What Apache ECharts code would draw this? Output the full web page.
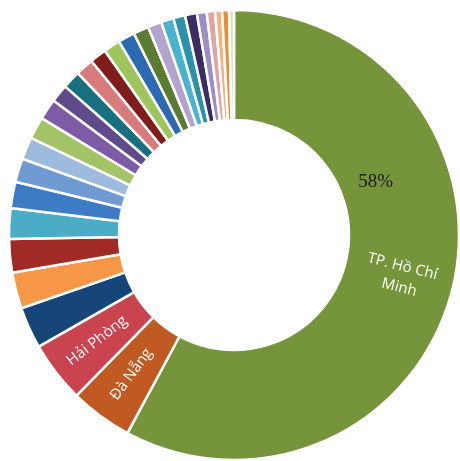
<!DOCTYPE html>
<html>
<head>
<meta charset="utf-8">
<script src="https://cdn.jsdelivr.net/npm/echarts@6/dist/echarts.min.js"></script>
<style>
html,body{margin:0;padding:0;background:#fff;}
#chart{width:460px;height:461px;}
</style>
</head>
<body>
<div id="chart"></div>
<script>
// Share of each locality (percent), clockwise from 12 o'clock
const categories = [
  'TP. Hồ Chí Minh', 'Đà Nẵng', 'Hải Phòng',
  '', '', '', '', '', '', '', '', '', '', '', '', '', '', '', '', '', '', '', '', '', '', '', '', ''
];
const values = [
  58, 4.5, 4.4,
  3.0, 2.6, 2.4, 2.2, 1.9, 1.7, 1.6, 1.6, 1.5, 1.3, 1.3, 1.3, 1.2, 1.2, 1.2, 1.1, 1.0, 0.9, 0.85, 0.85, 0.7, 0.6, 0.5, 0.5, 0.35
];
const colors = [
  '#76953B', '#C05A22', '#C9444F',
  '#16457A', '#F79646', '#A02B26', '#4BACC6', '#3D7BC4', '#6F9AD3', '#9DBBDD', '#A3C466', '#7E5BA6',
  '#5F4A8B', '#17707F', '#D97A7B', '#801D1C', '#9EC55B', '#2C6BB4', '#5B7B30', '#B3A3CE', '#49B4CF',
  '#2A93A8', '#3C2C63', '#9C8FC6', '#DEA5A5', '#F6B27E', '#EE8B35', '#D6E4BC'
];

const data = values.map((v, i) => ({
  name: categories[i],
  value: v,
  itemStyle: { color: colors[i] }
}));

const chart = echarts.init(document.getElementById('chart'), null, { renderer: 'canvas' });
chart.setOption({
  animation: false,
  backgroundColor: '#ffffff',
  series: [
    {
      type: 'pie',
      center: [234, 235],
      radius: [115, 225],
      startAngle: 90,
      clockwise: true,
      avoidLabelOverlap: false,
      itemStyle: { borderColor: '#ffffff', borderWidth: 2.5 },
      label: {
        show: true,
        position: 'inside',
        rotate: true,
        color: '#ffffff',
        fontFamily: 'Open Sans',
        fontSize: 15,
        lineHeight: 21,
        width: 100,
        overflow: 'break',
        align: 'center',
        formatter: p => p.name
      },
      labelLine: { show: false },
      data: data
    },
    {
      type: 'pie',
      center: [234, 235],
      radius: [115, 225],
      startAngle: 90,
      clockwise: true,
      silent: true,
      avoidLabelOverlap: false,
      itemStyle: { color: 'rgba(0,0,0,0)', borderWidth: 0 },
      label: {
        show: true,
        position: 'inside',
        color: '#1a1a1a',
        fontFamily: 'Liberation Serif',
        fontSize: 19,
        formatter: p => (p.dataIndex === 0 ? Math.round(p.percent) + '%' : '')
      },
      labelLayout: function (params) {
        return params.dataIndex === 0 ? { dx: -26, dy: -95 } : {};
      },
      labelLine: { show: false },
      data: values.map((v, i) => ({ name: categories[i], value: v }))
    }
  ]
});
</script>
</body>
</html>
